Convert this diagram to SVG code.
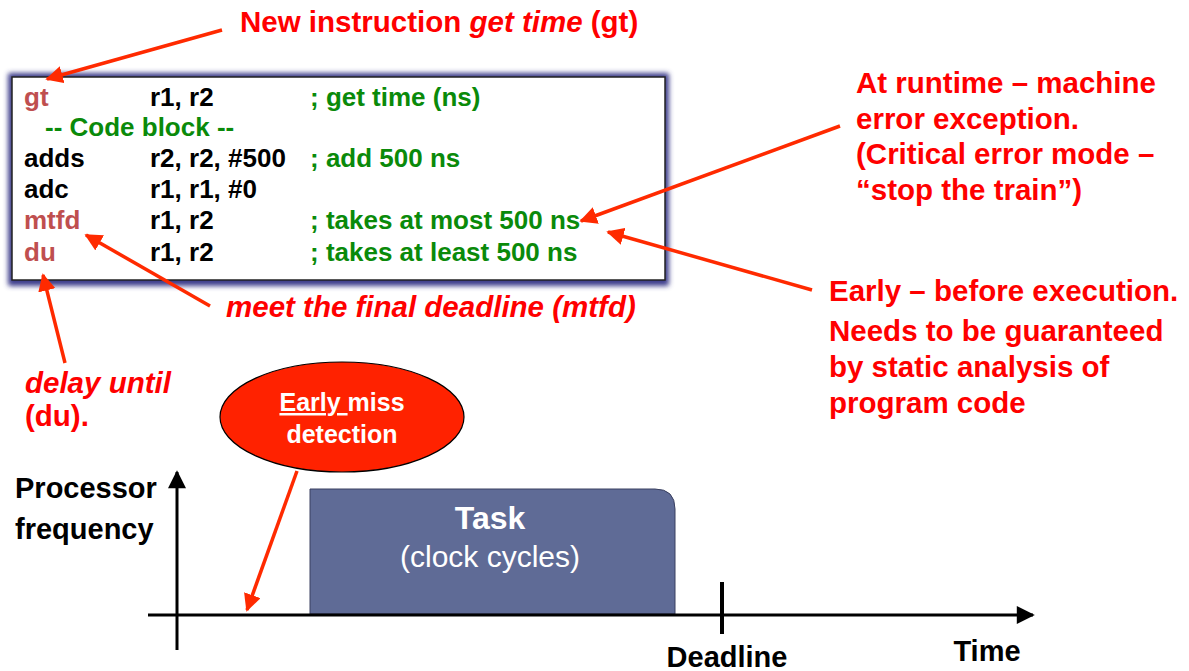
<svg xmlns="http://www.w3.org/2000/svg" width="1189" height="671" viewBox="0 0 1189 671">
  <style>
    text { font-family: "Liberation Sans", Arial, sans-serif; font-weight: bold; }
    .code { font-size: 26px; }
    .op { fill: #BF4F4F; }
    .arg { fill: #000000; }
    .cm { fill: #0A8A0A; }
    .note { font-size: 29.5px; fill: #FF0000; }
    .axis-label { font-size: 29px; fill: #000000; }
    .plain { font-weight: normal; }
    .red-arrow { stroke: #FF2A00; stroke-width: 3.5; fill: none; marker-end: url(#redHead); }
    .axis { stroke: #000000; stroke-width: 3; fill: none; }
  </style>
  <defs>
    <marker id="redHead" viewBox="0 0 10 10" refX="9" refY="5" markerWidth="5" markerHeight="5" orient="auto" markerUnits="strokeWidth">
      <path d="M0,0 L10,5 L0,10 Z" fill="#FF2A00"/>
    </marker>
    <marker id="blackHead" viewBox="0 0 10 10" refX="9" refY="5" markerWidth="7" markerHeight="6" orient="auto" markerUnits="strokeWidth">
      <path d="M0,0 L10,5 L0,10 Z" fill="#000000"/>
    </marker>
    <filter id="glow" x="-5%" y="-10%" width="110%" height="125%">
      <feGaussianBlur stdDeviation="2.5"/>
    </filter>
  </defs>

  <rect width="1189" height="671" fill="#FFFFFF"/>

  <!-- code listing box with soft blue frame -->
  <g id="code-box">
    <rect x="8" y="73" width="661" height="213" rx="2" fill="#3C3C8C" filter="url(#glow)"/>
    <rect x="12" y="77" width="653" height="203" fill="#FFFFFF" stroke="#222222" stroke-width="1.5"/>
    <g class="code">
      <text x="24" y="106" class="op">gt</text>
      <text x="150" y="106" class="arg">r1, r2</text>
      <text x="310" y="106" class="cm">; get time (ns)</text>

      <text x="45" y="136" class="cm">-- Code block --</text>

      <text x="24" y="167" class="arg">adds</text>
      <text x="150" y="167" class="arg">r2, r2, #500</text>
      <text x="310" y="167" class="cm">; add 500 ns</text>

      <text x="24" y="198" class="arg">adc</text>
      <text x="150" y="198" class="arg">r1, r1, #0</text>

      <text x="24" y="229" class="op">mtfd</text>
      <text x="150" y="229" class="arg">r1, r2</text>
      <text x="310" y="229" class="cm">; takes at most 500 ns</text>

      <text x="24" y="261" class="op">du</text>
      <text x="150" y="261" class="arg">r1, r2</text>
      <text x="310" y="261" class="cm">; takes at least 500 ns</text>
    </g>
  </g>

  <!-- annotations -->
  <g id="note-gt">
    <text x="240" y="32" class="note">New instruction <tspan font-style="italic">get time</tspan> (gt)</text>
  </g>
  <g id="note-runtime">
    <text x="856" y="93" class="note">At runtime – machine</text>
    <text x="856" y="129" class="note">error exception.</text>
    <text x="856" y="164" class="note">(Critical error mode –</text>
    <text x="856" y="200" class="note">“stop the train”)</text>
  </g>
  <g id="note-early">
    <text x="829" y="301" class="note">Early – before execution.</text>
    <text x="829" y="341" class="note">Needs to be guaranteed</text>
    <text x="829" y="377" class="note">by static analysis of</text>
    <text x="829" y="413" class="note">program code</text>
  </g>
  <g id="note-mtfd">
    <text x="226" y="317" class="note" font-style="italic">meet the final deadline (mtfd)</text>
  </g>
  <g id="note-du">
    <text x="25" y="393" class="note" font-style="italic">delay until</text>
    <text x="25" y="426" class="note">(du).</text>
  </g>

  <!-- early miss bubble -->
  <g id="early-miss">
    <ellipse cx="342" cy="417" rx="122" ry="55" fill="#FF2200" stroke="#000000" stroke-width="1.2"/>
    <text x="342" y="411" text-anchor="middle" font-size="25" fill="#FFFFFF"><tspan text-decoration="underline">Early </tspan>miss</text>
    <text x="342" y="443" text-anchor="middle" font-size="25" fill="#FFFFFF">detection</text>
  </g>

  <!-- task block -->
  <g id="task">
    <path d="M310,489 H655 Q675,489 675,509 V614 H310 Z" fill="#5F6B96" stroke="#3A4060" stroke-width="1"/>
    <text x="490" y="529" text-anchor="middle" font-size="32" fill="#FFFFFF">Task</text>
    <text x="490" y="567" text-anchor="middle" font-size="30" fill="#FFFFFF" class="plain">(clock cycles)</text>
  </g>

  <!-- chart axes -->
  <g id="axes">
    <line x1="177" y1="650" x2="177" y2="472" class="axis" marker-end="url(#blackHead)"/>
    <line x1="148" y1="615" x2="1033" y2="615" class="axis" marker-end="url(#blackHead)"/>
    <line x1="722" y1="582" x2="722" y2="634" stroke="#000000" stroke-width="4"/>
    <text x="15" y="498" class="axis-label">Processor</text>
    <text x="15" y="539" class="axis-label">frequency</text>
    <text x="727" y="667" text-anchor="middle" class="axis-label">Deadline</text>
    <text x="987" y="661" text-anchor="middle" class="axis-label">Time</text>
  </g>

  <!-- connectors -->
  <g id="connectors">
    <line x1="222" y1="30" x2="47" y2="79" class="red-arrow"/>
    <line x1="840" y1="126" x2="581" y2="221" class="red-arrow"/>
    <line x1="812" y1="290" x2="608" y2="232" class="red-arrow"/>
    <line x1="210" y1="306" x2="86" y2="235" class="red-arrow"/>
    <line x1="65" y1="363" x2="43" y2="275" class="red-arrow"/>
    <line x1="297" y1="471" x2="247" y2="610" class="red-arrow"/>
  </g>
</svg>
